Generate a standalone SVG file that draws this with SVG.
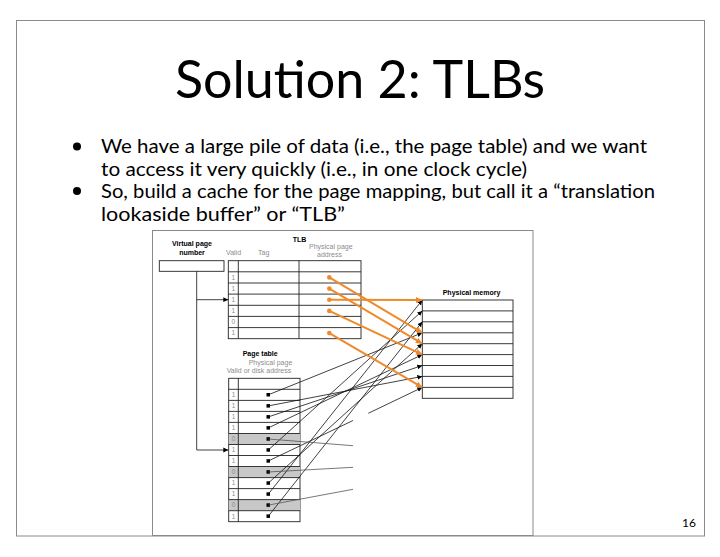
<svg xmlns="http://www.w3.org/2000/svg" width="720" height="557" viewBox="0 0 720 557">
<style>
.title{font-family:Lato,"Open Sans","Liberation Sans",sans-serif;font-size:52px;fill:#000}
.body{font-family:Lato,"Open Sans","Liberation Sans",sans-serif;font-size:20px;fill:#000}
.lbl{font-family:"Liberation Sans",Arial,sans-serif;font-size:7px;fill:#000;font-weight:bold}
.gl{font-family:"Liberation Sans",Arial,sans-serif;font-size:7px;fill:#8c8c8c}
.dig{font-family:"Liberation Sans",Arial,sans-serif;font-size:6.5px;fill:#8c8c8c;text-anchor:middle}
.box{fill:#fff;stroke:#222;stroke-width:0.9}
.rl{stroke:#222;stroke-width:0.9}
.gr{fill:#c8c8c8}
.dot{fill:#000}
.bl{stroke:#111;stroke-width:0.8;fill:none}
.st{stroke:#555;stroke-width:0.8;fill:none}
.or{stroke:#EE8A2A;stroke-width:2;fill:none}
.od{fill:#EE8A2A}
.frame{fill:none;stroke:#8a8a8a;stroke-width:1}
</style>
<defs>
<marker id="ab" markerUnits="userSpaceOnUse" markerWidth="6" markerHeight="6" refX="5" refY="3" orient="auto"><path d="M0,0.6 L5,3 L0,5.4 z" fill="#000"/></marker>
<marker id="ao" markerUnits="userSpaceOnUse" markerWidth="8" markerHeight="8" refX="6.5" refY="4" orient="auto"><path d="M0,1 L6.5,4 L0,7 z" fill="#EE8A2A"/></marker>
</defs>
<rect x="0" y="0" width="720" height="557" fill="#fff"/>
<rect class="frame" x="16.5" y="20.5" width="688" height="515.5"/>
<g id="title"><text class="title" x="360" y="98" text-anchor="middle">Solution 2: TLBs</text></g>
<g id="bullets">
<circle cx="77" cy="146.5" r="4"/>
<circle cx="77" cy="191" r="4"/>
<text class="body" x="101" y="153" textLength="546" lengthAdjust="spacingAndGlyphs">We have a large pile of data (i.e., the page table) and we want</text>
<text class="body" x="101" y="175.5" textLength="426" lengthAdjust="spacingAndGlyphs">to access it very quickly (i.e., in one clock cycle)</text>
<text class="body" x="101" y="197.5" textLength="554" lengthAdjust="spacingAndGlyphs">So, build a cache for the page mapping, but call it a “translation</text>
<text class="body" x="101" y="220.5" textLength="244" lengthAdjust="spacingAndGlyphs">lookaside buffer” or “TLB”</text>
</g>
<rect id="figure-frame" class="frame" x="152.5" y="230.5" width="380.5" height="305"/>
<g id="vpn">
<text class="lbl" x="192" y="246.3" text-anchor="middle">Virtual page</text>
<text class="lbl" x="192" y="255.3" text-anchor="middle">number</text>
<rect class="box" x="159.3" y="260.7" width="64.7" height="10.6"/>
</g>
<g id="tlb">
<text class="lbl" x="292.7" y="242" font-size="6.5">TLB</text>
<text class="gl" x="226" y="254.7">Valid</text>
<text class="gl" x="258" y="254.7">Tag</text>
<text class="gl" x="309" y="249">Physical page</text>
<text class="gl" x="329.5" y="257" text-anchor="middle">address</text>
<rect class="box" x="228.3" y="260.7" width="132.7" height="78"/>
<path class="rl" d="M238.3,260.7V338.7M299,260.7V338.7M228.3,271.8H361M228.3,283H361M228.3,294.1H361M228.3,305.3H361M228.3,316.4H361M228.3,327.6H361"/>
<text class="dig" x="233.3" y="279.7">1</text>
<text class="dig" x="233.3" y="290.9">1</text>
<text class="dig" x="233.3" y="302">1</text>
<text class="dig" x="233.3" y="313.2">1</text>
<text class="dig" x="233.3" y="324.3">0</text>
<text class="dig" x="233.3" y="335.4">1</text>
</g>
<g id="page-table">
<text class="lbl" x="242.7" y="356">Page table</text>
<text class="gl" x="248.7" y="365">Physical page</text>
<text class="gl" x="226.7" y="373.3">Valid or disk address</text>
<rect class="box" x="228.7" y="378.3" width="71.3" height="143.4"/>
<rect class="gr" x="228.7" y="433.5" width="71.3" height="11"/>
<rect class="gr" x="228.7" y="466.5" width="71.3" height="11.1"/>
<rect class="gr" x="228.7" y="499.6" width="71.3" height="11.1"/>
<path class="rl" d="M238.3,378.3V521.7M228.7,389.3H300M228.7,400.4H300M228.7,411.4H300M228.7,422.4H300M228.7,433.5H300M228.7,444.5H300M228.7,455.5H300M228.7,466.5H300M228.7,477.6H300M228.7,488.6H300M228.7,499.6H300M228.7,510.7H300"/>
<text class="dig" x="233.5" y="397.1">1</text>
<text class="dig" x="233.5" y="408.2">1</text>
<text class="dig" x="233.5" y="419.2">1</text>
<text class="dig" x="233.5" y="430.2">1</text>
<text class="dig" x="233.5" y="441.3">0</text>
<text class="dig" x="233.5" y="452.3">1</text>
<text class="dig" x="233.5" y="463.3">1</text>
<text class="dig" x="233.5" y="474.3">0</text>
<text class="dig" x="233.5" y="485.4">1</text>
<text class="dig" x="233.5" y="496.4">1</text>
<text class="dig" x="233.5" y="507.4">0</text>
<text class="dig" x="233.5" y="518.5">1</text>
<rect class="dot" x="266.5" y="393" width="3.5" height="3.5"/>
<rect class="dot" x="266.5" y="404.1" width="3.5" height="3.5"/>
<rect class="dot" x="266.5" y="415.1" width="3.5" height="3.5"/>
<rect class="dot" x="266.5" y="426.1" width="3.5" height="3.5"/>
<rect class="dot" x="266.5" y="437.2" width="3.5" height="3.5"/>
<rect class="dot" x="266.5" y="448.2" width="3.5" height="3.5"/>
<rect class="dot" x="266.5" y="459.2" width="3.5" height="3.5"/>
<rect class="dot" x="266.5" y="470.2" width="3.5" height="3.5"/>
<rect class="dot" x="266.5" y="481.3" width="3.5" height="3.5"/>
<rect class="dot" x="266.5" y="492.3" width="3.5" height="3.5"/>
<rect class="dot" x="266.5" y="503.3" width="3.5" height="3.5"/>
<rect class="dot" x="266.5" y="514.4" width="3.5" height="3.5"/>
</g>
<g id="physical-memory">
<text class="lbl" x="471.5" y="295" text-anchor="middle">Physical memory</text>
<rect class="box" x="422.3" y="300" width="90.7" height="98.3"/>
<path class="rl" d="M422.3,310.9H513M422.3,321.8H513M422.3,332.8H513M422.3,343.7H513M422.3,354.6H513M422.3,365.5H513M422.3,376.4H513M422.3,387.4H513"/>
</g>
<g id="connectors">
<path class="bl" d="M196.7,271.3V450H228.3" marker-end="url(#ab)"/>
<path class="bl" d="M196.7,299.7H228.3" marker-end="url(#ab)"/>
<path class="bl" d="M268.3,394.8L422.3,332.8" marker-end="url(#ab)"/>
<path class="bl" d="M268.3,405.9L422.3,376.4" marker-end="url(#ab)"/>
<path class="bl" d="M268.3,416.9L422.3,365.5" marker-end="url(#ab)"/>
<path class="bl" d="M268.3,427.9L422.3,354.6" marker-end="url(#ab)"/>
<path class="bl" d="M268.3,450L422.3,310.9" marker-end="url(#ab)"/>
<path class="bl" d="M268.3,461L353,420.5"/>
<path class="bl" d="M368.3,413.3L422.3,387.4" marker-end="url(#ab)"/>
<path class="bl" d="M268.3,483.1L422.3,343.7" marker-end="url(#ab)"/>
<path class="bl" d="M268.3,494.1L422.3,300" marker-end="url(#ab)"/>
<path class="bl" d="M268.3,516.2L422.3,321.8" marker-end="url(#ab)"/>
<path class="st" d="M268.3,439L353,445.7"/>
<path class="st" d="M268.3,472L353,467.3"/>
<path class="st" d="M268.3,505.1L353,489.3"/>
<circle class="od" cx="329.3" cy="277.4" r="2.3"/>
<circle class="od" cx="329.3" cy="288.6" r="2.3"/>
<circle class="od" cx="329.3" cy="299.7" r="2.3"/>
<circle class="od" cx="329.3" cy="310.9" r="2.3"/>
<circle class="od" cx="329.3" cy="333.1" r="2.3"/>
<path class="or" d="M329.3,277.4L422.3,332.8" marker-end="url(#ao)"/>
<path class="or" d="M329.3,288.6L422.3,343.7" marker-end="url(#ao)"/>
<path class="or" d="M329.3,299.7L422.3,300" marker-end="url(#ao)"/>
<path class="or" d="M329.3,310.9L422.3,354.6" marker-end="url(#ao)"/>
<path class="or" d="M329.3,333.1L422.3,387.4" marker-end="url(#ao)"/>
</g>
<g id="page-number"><text x="696" y="527" text-anchor="end" font-family="Lato,'Open Sans','Liberation Sans',sans-serif" font-size="12">16</text></g>
</svg>
